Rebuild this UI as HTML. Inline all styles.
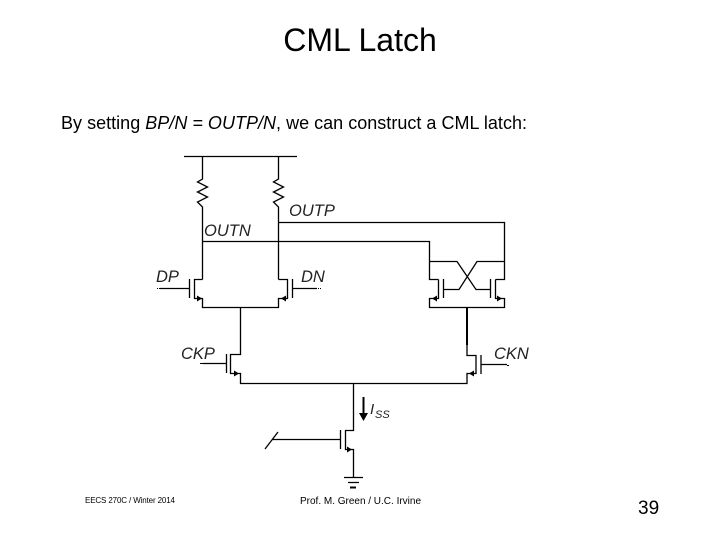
<!DOCTYPE html>
<html><head><meta charset="utf-8">
<style>
html,body{margin:0;padding:0;background:#fff}
svg{display:block}
text{font-family:"Liberation Sans",Arial,sans-serif;fill:#000}
.i{font-style:italic;font-size:16.5px;fill:#222}
</style></head><body>
<svg width="720" height="540" viewBox="0 0 720 540" xmlns="http://www.w3.org/2000/svg">
<rect width="720" height="540" fill="#fff"/>
<text x="360" y="51" font-size="32" text-anchor="middle">CML Latch</text>
<text x="61" y="129" font-size="18" textLength="466" lengthAdjust="spacing">By setting <tspan font-style="italic">BP/N = OUTP/N</tspan>, we can construct a CML latch:</text>

<g fill="none" stroke="#000" stroke-width="1.3">
<!-- rail and load resistors -->
<path d="M184 156.5H297"/>
<path d="M202.5 156.5V179L197.5 182L207.5 187L197.5 192L207.5 197L197.5 202L202.5 207V279.5"/>
<path d="M278.5 156.5V179L273.5 182L283.5 187L273.5 192L283.5 197L273.5 202L278.5 207V279.5"/>
<!-- outputs -->
<path d="M278.5 222.5H504.5V279.5H495.5"/>
<path d="M202.5 241.5H429.5V279.5H438.5"/>
<!-- DP/DN -->
<path d="M202.5 279.5H194.5V298.5H202.5V307.5H278.5V298.5H287.5V279.5H278.5"/>
<path d="M189.5 279V298M160 288.5H189.5"/>
<path d="M292.5 279V298M292.5 288.5H317"/>
<!-- latch pair -->
<path d="M429.5 261.5H457L476 289.5H490.5"/>
<path d="M504.5 261.5H477L459 289.5H443.5"/>
<path d="M438.5 279.5V298.5H429.5V307.5H504.5V298.5H495.5V279.5"/>
<path d="M443.5 279V298M490.5 279V298"/>
<!-- clock pair -->
<path d="M240.5 307.5V354.5H230.5V373.5H240.5V383.5H467V373.5H476V355.5H467V345"/>
<path d="M226.5 354V373M203 363.5H226.5"/>
<path d="M481 355V374M481 364.5H507"/>
<!-- tail -->
<path d="M353.5 383.5V430.5H345.5V449.5H353.5V477"/>
<path d="M340.5 430V449M272 439.5H340.5"/>
<path d="M265 449L278 432"/>
<path d="M344 477.5H363M348 482.5H359"/>
</g>
<path d="M467 307.5V345" stroke="#000" stroke-width="2" fill="none"/>
<path d="M350 487.5H356" stroke="#000" stroke-width="2" fill="none"/>
<path d="M363.5 397V414" stroke="#000" stroke-width="2" fill="none"/>
<g fill="#000">
<path d="M359 413H368L363.5 421Z"/>
<path d="M197 295.5L202 298.5L197 301.5Z"/>
<path d="M286 295.5L281 298.5L286 301.5Z"/>
<path d="M437 295.5L432 298.5L437 301.5Z"/>
<path d="M497 295.5L502 298.5L497 301.5Z"/>
<path d="M234 370.5L239 373.5L234 376.5Z"/>
<path d="M474 370.5L469 373.5L474 376.5Z"/>
<path d="M347 446.5L352 449.5L347 452.5Z"/>
<rect x="157" y="288" width="1" height="1"/><rect x="159" y="288" width="1" height="1"/>
<rect x="318" y="288" width="1" height="1"/><rect x="320" y="288" width="1" height="1"/>
<rect x="200" y="363" width="3" height="1"/>
<rect x="507" y="365" width="2" height="1"/>
</g>

<text class="i" x="289" y="216">OUTP</text>
<text class="i" x="204" y="236">OUTN</text>
<text class="i" x="156" y="282">DP</text>
<text class="i" x="301" y="282">DN</text>
<text class="i" x="181" y="359">CKP</text>
<text class="i" x="494" y="359">CKN</text>
<text class="i" x="370" y="414" style="font-size:15px">I</text>
<text class="i" x="375" y="418" style="font-size:11px">SS</text>
<text x="85" y="503" font-size="8" textLength="90" lengthAdjust="spacing">EECS 270C / Winter 2014</text>
<text x="300" y="504" font-size="10" textLength="121" lengthAdjust="spacing">Prof. M. Green / U.C. Irvine</text>
<text x="638" y="514" font-size="19">39</text>
</svg>
</body></html>
